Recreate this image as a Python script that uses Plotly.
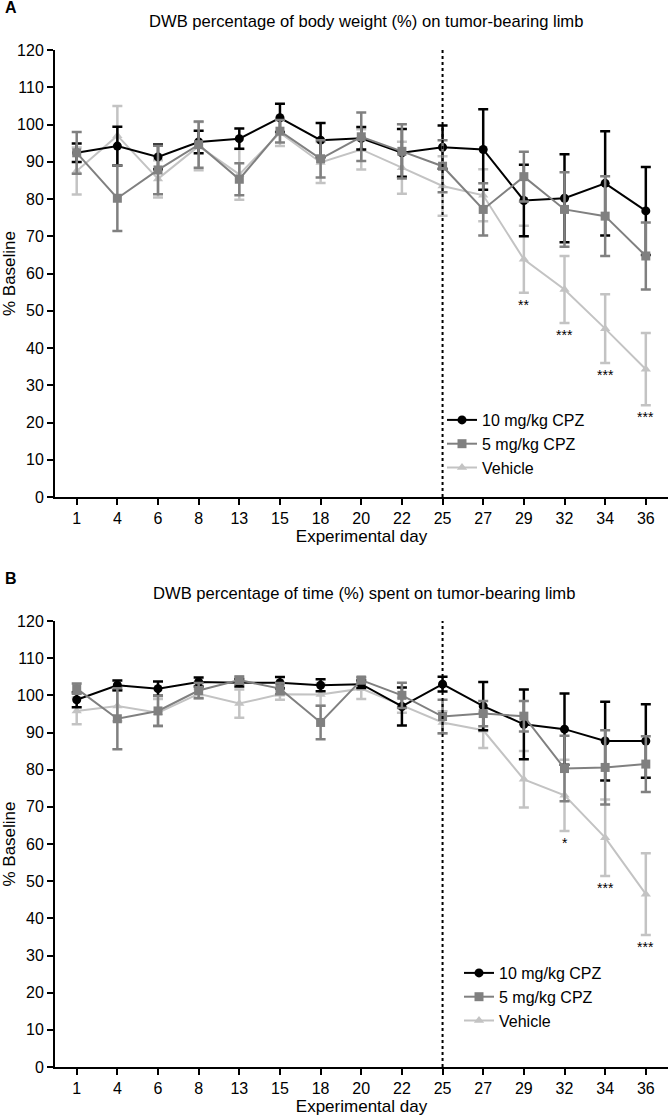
import plotly.graph_objects as go

days = [1, 4, 6, 8, 13, 15, 18, 20, 22, 25, 27, 29, 32, 34, 36]
series_names = ["10 mg/kg CPZ", "5 mg/kg CPZ", "Vehicle"]

# Panel A: DWB percentage of body weight
a_cpz10 = [92.4, 94.2, 91.3, 95.3, 96.2, 101.8, 95.8, 96.3, 92.4, 93.9, 93.3, 79.6, 80.2, 84.2, 76.8]
a_cpz10_err = [2.5, 5.2, 3.3, 3.0, 2.7, 3.8, 4.6, 3.0, 6.4, 5.8, 10.8, 9.6, 11.8, 14.0, 11.8]
a_cpz5 = [92.4, 80.2, 87.8, 94.6, 85.3, 98.2, 90.8, 96.7, 92.8, 88.8, 77.2, 86.0, 77.2, 75.4, 64.7]
a_cpz5_err = [5.6, 8.8, 6.5, 6.2, 4.3, 3.0, 5.0, 6.5, 7.3, 7.0, 7.0, 6.7, 10.0, 10.7, 9.0]
a_veh = [87.5, 97.0, 85.4, 94.2, 86.6, 97.8, 89.8, 93.3, 88.4, 83.5, 81.0, 63.8, 55.7, 45.2, 34.3]
a_veh_err = [6.3, 8.0, 5.0, 6.5, 6.8, 3.6, 5.5, 5.4, 7.0, 8.0, 7.0, 9.0, 9.0, 9.2, 9.7]
a_sig_days = [29, 32, 34, 36]
a_sig_marks = ["**", "***", "***", "***"]

# Panel B: DWB percentage of time
b_cpz10 = [98.8, 102.7, 101.8, 103.6, 103.4, 103.4, 102.7, 103.0, 97.0, 103.0, 97.1, 92.2, 90.9, 87.7, 87.7]
b_cpz10_err = [2.0, 1.3, 1.9, 1.2, 1.0, 1.5, 1.6, 1.0, 5.1, 2.0, 6.5, 9.4, 9.6, 10.6, 9.9]
b_cpz5 = [101.8, 93.7, 95.8, 101.3, 104.1, 101.8, 92.7, 104.1, 100.0, 94.3, 95.1, 94.4, 80.3, 80.6, 81.5]
b_cpz5_err = [1.4, 8.2, 4.0, 2.0, 1.0, 1.5, 4.5, 0.8, 3.4, 4.5, 3.4, 4.1, 8.8, 10.0, 7.5]
b_veh = [95.8, 97.1, 95.3, 100.4, 97.8, 100.3, 100.2, 101.8, 97.3, 92.7, 90.6, 77.4, 73.1, 61.7, 46.5]
b_veh_err = [3.6, 4.1, 3.7, 1.3, 3.8, 1.5, 3.0, 2.8, 2.0, 3.0, 4.8, 7.6, 9.6, 10.3, 11.0]
b_sig_days = [32, 34, 36]
b_sig_marks = ["*", "***", "***"]

y_ticks = list(range(0, 121, 10))
treatment_start_day = 25
titles = ["DWB percentage of body weight (%) on tumor-bearing limb",
          "DWB percentage of time (%) spent on tumor-bearing limb"]
panel_labels = ["A", "B"]
x_title = "Experimental day"
y_title = "% Baseline"

FONT = "Liberation Sans, Arial, sans-serif"
colors = {"10 mg/kg CPZ": "#000000", "5 mg/kg CPZ": "#808080", "Vehicle": "#c3c3c3"}
symbols = {"10 mg/kg CPZ": "circle", "5 mg/kg CPZ": "square", "Vehicle": "triangle-up"}
ranks = {"10 mg/kg CPZ": 1, "5 mg/kg CPZ": 2, "Vehicle": 3}

xi = list(range(len(days)))

fig = go.Figure()

panels = [
    ("x", "y", "legend", {"10 mg/kg CPZ": (a_cpz10, a_cpz10_err), "5 mg/kg CPZ": (a_cpz5, a_cpz5_err), "Vehicle": (a_veh, a_veh_err)}, a_sig_days, a_sig_marks),
    ("x2", "y2", "legend2", {"10 mg/kg CPZ": (b_cpz10, b_cpz10_err), "5 mg/kg CPZ": (b_cpz5, b_cpz5_err), "Vehicle": (b_veh, b_veh_err)}, b_sig_days, b_sig_marks),
]

draw_order = ["Vehicle", "10 mg/kg CPZ", "5 mg/kg CPZ"]
annotations = []
shapes = []
for (xa, ya, lg, data, sig_days, sig_marks) in panels:
    for name in draw_order:
        vals, errs = data[name]
        fig.add_trace(go.Scatter(
            x=xi, y=vals, name=name, mode="lines+markers",
            xaxis=xa, yaxis=ya, legend=lg, legendrank=ranks[name],
            line=dict(color=colors[name], width=2),
            marker=dict(color=colors[name], symbol=symbols[name], size=9),
            error_y=dict(type="data", array=errs, color=colors[name], thickness=2.5, width=5),
        ))
    veh, veh_err = data["Vehicle"]
    for d, m in zip(sig_days, sig_marks):
        i = days.index(d)
        annotations.append(dict(x=i, y=veh[i] - veh_err[i] - 3.2, xref=xa, yref=ya, text=m,
                                showarrow=False, font=dict(size=14, color="#000", family=FONT),
                                yanchor="middle"))
    shapes.append(dict(type="line", xref=xa, yref=ya, x0=days.index(treatment_start_day),
                       x1=days.index(treatment_start_day), y0=0, y1=120,
                       line=dict(color="#000", width=2, dash="dot")))

axis_common = dict(showline=True, linecolor="#000", linewidth=2, ticks="outside", ticklen=6,
                   tickwidth=2, tickcolor="#000", showgrid=False, zeroline=False,
                   tickfont=dict(size=16, color="#000", family=FONT))

xaxis_common = dict(axis_common, range=[-0.534, 14.546], tickvals=xi, ticktext=[str(d) for d in days],
                    title=dict(text=x_title, font=dict(size=17, color="#000", family=FONT), standoff=0))
yaxis_common = dict(axis_common, range=[0, 120], tickvals=y_ticks,
                    title=dict(text=y_title, font=dict(size=17, color="#000", family=FONT), standoff=2))

H = 1117; T = 50; B = 50; PH = H - T - B
L = 55; R = 1; PW = 669 - L - R


def py(pix):
    return (H - B - pix) / PH


def px(pix):
    return (pix - L) / PW


fig.update_layout(
    width=669, height=1117,
    margin=dict(l=L, r=R, t=T, b=B, pad=0),
    paper_bgcolor="white", plot_bgcolor="white",
    font=dict(family=FONT, size=16, color="#000"),
    xaxis=dict(xaxis_common, domain=[0, 1], anchor="y"),
    yaxis=dict(yaxis_common, domain=[py(497), 1.0], anchor="x"),
    xaxis2=dict(xaxis_common, domain=[0, 1], anchor="y2"),
    yaxis2=dict(yaxis_common, domain=[0.0, py(621)], anchor="x2"),
    legend=dict(x=px(442), y=py(403), xanchor="left", yanchor="top", bgcolor="rgba(0,0,0,0)",
                font=dict(size=16, family=FONT, color="#000"), itemwidth=30, tracegroupgap=0),
    legend2=dict(x=px(459), y=py(956), xanchor="left", yanchor="top", bgcolor="rgba(0,0,0,0)",
                 font=dict(size=16, family=FONT, color="#000"), itemwidth=30, tracegroupgap=0),
    showlegend=True,
    shapes=shapes,
)

for lab, ly, title, ty, tcx in [(panel_labels[0], 7, titles[0], 22, 366), (panel_labels[1], 578, titles[1], 593, 364)]:
    annotations.append(dict(xref="paper", yref="paper", x=px(3), y=py(ly), text="<b>" + lab + "</b>",
                            showarrow=False, xanchor="left", yanchor="middle",
                            font=dict(size=16, family=FONT, color="#000")))
    annotations.append(dict(xref="paper", yref="paper", x=px(tcx), y=py(ty), text=title,
                            showarrow=False, xanchor="center", yanchor="middle",
                            font=dict(size=16.6, family=FONT, color="#000")))

fig.update_layout(annotations=annotations)

fig.write_html("out.html", config={"displayModeBar": False},
               post_script="document.body.style.margin='0';document.body.style.overflow='hidden';")
